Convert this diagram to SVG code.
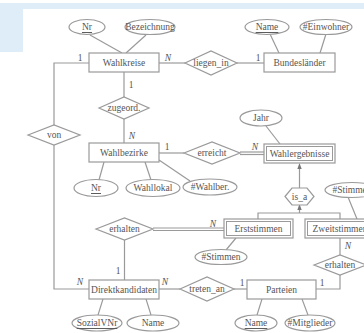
<svg xmlns="http://www.w3.org/2000/svg" width="364" height="333" viewBox="0 0 364 333">
<defs>
<style>
.e{fill:#fff;stroke:#9a9a9a;stroke-width:1.2}
.w{fill:none;stroke:#9a9a9a;stroke-width:1}
.l{fill:none;stroke:#9a9a9a;stroke-width:1.2}
.t{font-family:"Liberation Serif",serif;font-size:9.5px;fill:#555;text-anchor:middle;dominant-baseline:central}
.c{font-family:"Liberation Serif",serif;font-size:9.5px;fill:#555;text-anchor:middle}
.i{font-style:italic}
.u{text-decoration:underline}
</style>
<marker id="ah" markerWidth="6" markerHeight="6" refX="3" refY="3" orient="auto" markerUnits="userSpaceOnUse">
<path d="M0,0.8 L6,3 L0,5.2 Z" fill="#777"/>
</marker>
</defs>
<rect x="0" y="0" width="364" height="333" fill="#fff"/>
<rect x="0" y="3" width="364" height="6" fill="#deedf7"/>
<rect x="0" y="3" width="23" height="49" fill="#deedf7"/>

<g id="connectors">
<line class="l" x1="90" y1="35" x2="122" y2="53"/>
<line class="l" x1="146" y1="35" x2="126" y2="53"/>
<line class="l" x1="270" y1="34" x2="279" y2="53"/>
<line class="l" x1="326" y1="34" x2="320" y2="53"/>
<line class="l" x1="159" y1="63" x2="185" y2="63"/>
<line class="l" x1="237" y1="63" x2="264" y2="63"/>
<polyline class="l" points="89,63 54,63 54,125"/>
<polyline class="l" points="54,145 54,289 89,289"/>
<line class="l" x1="124" y1="72" x2="124" y2="97"/>
<line class="l" x1="124" y1="119" x2="124" y2="143"/>
<line class="l" x1="159" y1="153" x2="184" y2="153"/>
<line class="l" x1="240" y1="152" x2="264" y2="152"/>
<line class="l" x1="240" y1="154.5" x2="264" y2="154.5"/>
<line class="l" x1="266" y1="126" x2="280" y2="144"/>
<line class="l" x1="99" y1="180" x2="104" y2="162"/>
<line class="l" x1="151" y1="180" x2="145" y2="162"/>
<line class="l" x1="159" y1="160" x2="190" y2="181"/>
<line class="l" x1="299.5" y1="188" x2="299.5" y2="166" marker-end="url(#ah)"/>
<line class="l" x1="299.5" y1="213" x2="299.5" y2="207" marker-end="url(#ah)"/>
<polyline class="l" points="258,219 258,213 340,213 340,219"/>
<line class="l" x1="348" y1="197" x2="357" y2="219"/>
<line class="l" x1="153" y1="228" x2="224" y2="228"/>
<line class="l" x1="153" y1="230.5" x2="224" y2="230.5"/>
<line class="l" x1="124.5" y1="240" x2="124.5" y2="280"/>
<line class="l" x1="236" y1="238" x2="226" y2="250"/>
<line class="l" x1="159" y1="289" x2="180" y2="289"/>
<line class="l" x1="234" y1="289" x2="247" y2="289"/>
<line class="l" x1="340" y1="238" x2="340" y2="255"/>
<polyline class="l" points="340,275 340,289 316,289"/>
<line class="l" x1="103" y1="299" x2="98" y2="315"/>
<line class="l" x1="146" y1="299" x2="151" y2="315"/>
<line class="l" x1="262" y1="299" x2="257" y2="315"/>
<line class="l" x1="302" y1="299" x2="308" y2="315"/>
<text class="c" x="80" y="61">1</text>
<text class="c i" x="168" y="61">N</text>
<text class="c" x="258" y="61">1</text>
<text class="c" x="131" y="88">1</text>
<text class="c i" x="132" y="139">N</text>
<text class="c" x="167" y="150">1</text>
<text class="c i" x="255" y="150">N</text>
<text class="c i" x="213" y="227">N</text>
<text class="c" x="118" y="274">1</text>
<text class="c i" x="80" y="285">N</text>
<text class="c i" x="165" y="285">N</text>
<text class="c" x="242" y="286">1</text>
<text class="c i" x="348" y="249">N</text>
<text class="c" x="322" y="286">1</text>
</g>

<g id="Wahlkreise"><rect class="e" x="89" y="53" width="70" height="19"/><text class="t" x="124" y="63">Wahlkreise</text></g>
<g id="Bundeslaender"><rect class="e" x="264" y="53" width="71" height="19"/><text class="t" x="299.5" y="63">Bundesländer</text></g>
<g id="Wahlbezirke"><rect class="e" x="89" y="143" width="70" height="19"/><text class="t" x="124" y="153">Wahlbezirke</text></g>
<g id="Wahlergebnisse"><rect class="e" x="264" y="144" width="71" height="19"/><rect class="w" x="266.5" y="146.5" width="66" height="14"/><text class="t" x="299.5" y="154">Wahlergebnisse</text></g>
<g id="Erststimmen"><rect class="e" x="224" y="219" width="69" height="19"/><rect class="w" x="226.5" y="221.5" width="64" height="14"/><text class="t" x="258.5" y="229">Erststimmen</text></g>
<g id="Zweitstimmen"><rect class="e" x="305" y="219" width="70" height="19"/><rect class="w" x="307.5" y="221.5" width="65" height="14"/><text class="t" x="340" y="229">Zweitstimmen</text></g>
<g id="Direktkandidaten"><rect class="e" x="89" y="280" width="70" height="19"/><text class="t" x="124" y="290">Direktkandidaten</text></g>
<g id="Parteien"><rect class="e" x="247" y="280" width="69" height="19"/><text class="t" x="281.5" y="290">Parteien</text></g>

<g id="liegen_in"><polygon class="e" points="185,63 211,51 237,63 211,75"/><text class="t" x="211" y="63">liegen_in</text></g>
<g id="zugeord"><polygon class="e" points="99,108 124,97 149,108 124,119"/><text class="t" x="124" y="108">zugeord.</text></g>
<g id="von"><polygon class="e" points="28,135 54,125 80,135 54,145"/><text class="t" x="54" y="135">von</text></g>
<g id="erreicht"><polygon class="e" points="184,153 212,142 240,153 212,164"/><text class="t" x="212" y="153">erreicht</text></g>
<g id="erhalten1"><polygon class="e" points="96,229 124.5,218 153,229 124.5,240"/><text class="t" x="124.5" y="229">erhalten</text></g>
<g id="treten_an"><polygon class="e" points="180,289 207,277 234,289 207,301"/><text class="t" x="207" y="289">treten_an</text></g>
<g id="erhalten2"><polygon class="e" points="314,265 340,255 366,265 340,275"/><text class="t" x="340" y="265">erhalten</text></g>
<g id="is_a"><polygon class="e" points="285,196.5 292,188 307,188 314,196.5 307,205 292,205"/><text class="t" x="299.5" y="196.5">is_a</text></g>

<g id="a_Nr1"><ellipse class="e" cx="87" cy="27" rx="18" ry="7.5"/><text class="t u" x="87" y="27">Nr</text></g>
<g id="a_Bezeichnung"><ellipse class="e" cx="150" cy="27" rx="25" ry="7.5"/><text class="t" x="150" y="27">Bezeichnung</text></g>
<g id="a_Name1"><ellipse class="e" cx="267" cy="27" rx="22" ry="7.5"/><text class="t u" x="267" y="27">Name</text></g>
<g id="a_Einwohner"><ellipse class="e" cx="326" cy="27" rx="26" ry="7.5"/><text class="t" x="326" y="27">#Einwohner</text></g>
<g id="a_Jahr"><ellipse class="e" cx="261" cy="118" rx="21" ry="8"/><text class="t" x="261" y="118">Jahr</text></g>
<g id="a_Nr2"><ellipse class="e" cx="96" cy="188" rx="22" ry="8.5"/><text class="t u" x="96" y="188">Nr</text></g>
<g id="a_Wahllokal"><ellipse class="e" cx="153" cy="188" rx="27" ry="8.5"/><text class="t" x="153" y="188">Wahllokal</text></g>
<g id="a_Wahlber"><ellipse class="e" cx="210" cy="187" rx="27" ry="8"/><text class="t" x="210" y="187">#Wahlber.</text></g>
<g id="a_Stimmen2"><ellipse class="e" cx="352" cy="190" rx="27" ry="7.5"/><text class="t" x="352" y="190">#Stimmen</text></g>
<g id="a_Stimmen1"><ellipse class="e" cx="221" cy="257" rx="26" ry="7.5"/><text class="t" x="221" y="257">#Stimmen</text></g>
<g id="a_SozialVNr"><ellipse class="e" cx="97" cy="323" rx="25" ry="8"/><text class="t u" x="97" y="323">SozialVNr</text></g>
<g id="a_Name2"><ellipse class="e" cx="153" cy="323" rx="26" ry="8"/><text class="t" x="153" y="323">Name</text></g>
<g id="a_Name3"><ellipse class="e" cx="256" cy="323" rx="21" ry="8"/><text class="t u" x="256" y="323">Name</text></g>
<g id="a_Mitglieder"><ellipse class="e" cx="310" cy="323" rx="25" ry="8"/><text class="t" x="310" y="323">#Mitglieder</text></g>
</svg>
